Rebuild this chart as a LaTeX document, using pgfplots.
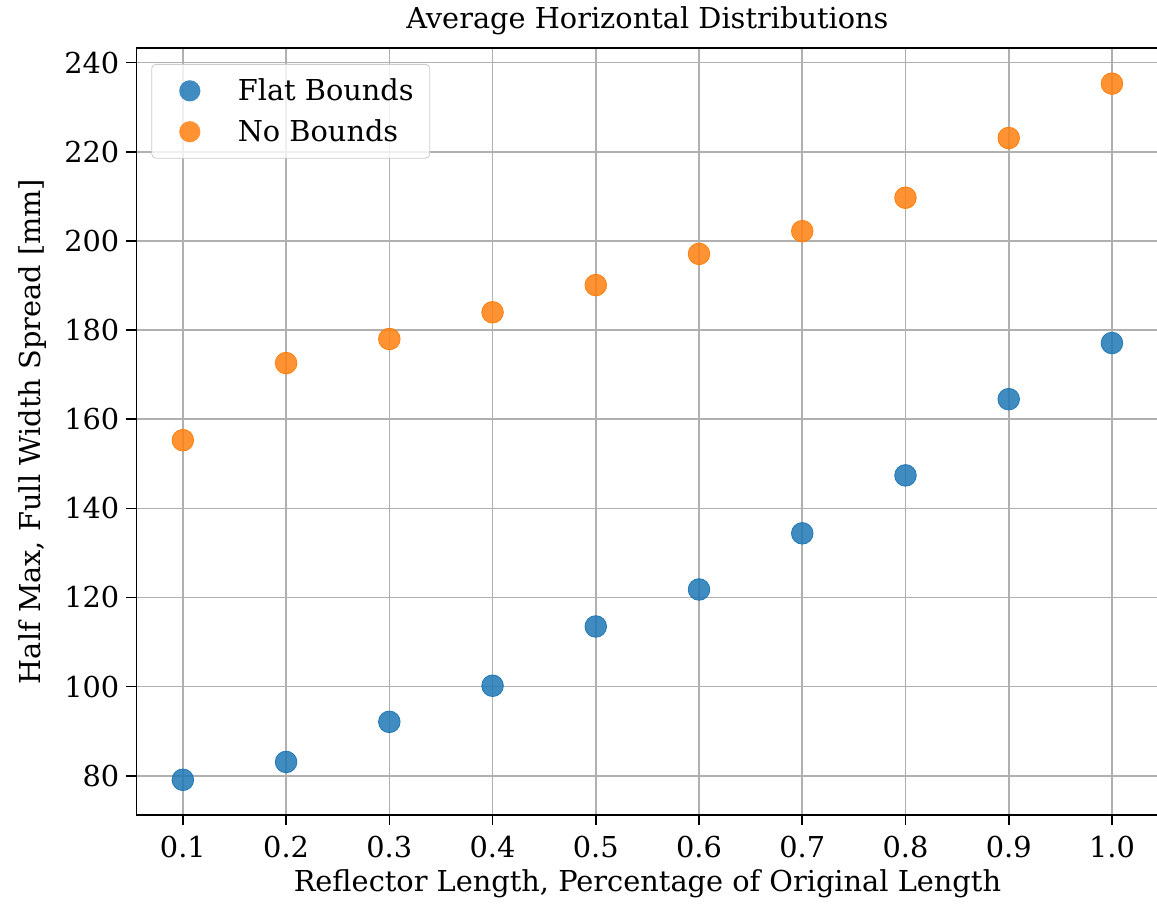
\documentclass[border=0pt]{standalone}
\usepackage{pgfplots}
\pgfplotsset{compat=1.18}
\usepackage{fontspec}
\setmainfont{DejaVu Serif}
\definecolor{tabblue}{HTML}{1F77B4}
\definecolor{taborange}{HTML}{FF7F0E}
\definecolor{gridgray}{HTML}{B0B0B0}
\begin{document}
\begin{tikzpicture}
\begin{axis}[
  at={(0,0)}, anchor=south west,
  scale only axis,
  width=511pt, height=383.5pt,
  xmin=0.055, xmax=1.045,
  ymin=71.2, ymax=243.3,
  xtick={0.1,0.2,...,1.0},
  xticklabels={0.1,0.2,0.3,0.4,0.5,0.6,0.7,0.8,0.9,1.0},
  ytick={80,100,...,240},
  /pgf/number format/assume math mode=true,
  tick label style={font=\fontsize{14.4}{16}\selectfont},
  label style={font=\fontsize{14.4}{16}\selectfont},
  title style={font=\fontsize{14.4}{16}\selectfont, yshift=-3pt},
  title={Average Horizontal Distributions},
  xlabel={Reflector Length, Percentage of Original Length},
  ylabel={Half Max, Full Width Spread [mm]},
  xlabel style={yshift=1pt},
  ylabel style={yshift=2pt},
  xticklabel style={yshift=-2pt},
  grid=major,
  major grid style={gridgray, line width=0.8pt},
  axis line style={black, line width=0.8pt},
  tick align=outside,
  major tick length=5pt,
  tick style={black, line width=0.8pt},
  xtick pos=bottom, ytick pos=left,
  legend cell align=left,
  legend style={at={(0,1)}, anchor=north west, xshift=7.5pt, yshift=-8pt,
    draw=gray!40, rounded corners=2pt, fill=white, fill opacity=0.8, text opacity=1,
    font=\fontsize{14.4}{16}\selectfont,
    row sep=4pt, inner xsep=6pt, inner ysep=5pt},
  legend image code/.code={\path[draw=none, fill=none] (0pt,0pt) -- (35pt,0pt); \fill[#1, draw=none, fill opacity=0.85] (13pt,0pt) circle (5.3pt);},
]
\addplot[only marks, mark=*, mark size=5.4pt, color=tabblue, mark options={draw=none, fill=tabblue, fill opacity=0.85}] coordinates {
(0.1,79.1) (0.2,83.1) (0.3,92.1) (0.4,100.2) (0.5,113.5)
(0.6,121.8) (0.7,134.4) (0.8,147.4) (0.9,164.5) (1.0,177.1)
};
\addlegendentry{Flat Bounds}
\addplot[only marks, mark=*, mark size=5.4pt, color=taborange, mark options={draw=none, fill=taborange, fill opacity=0.85}] coordinates {
(0.1,155.3) (0.2,172.6) (0.3,178.0) (0.4,184.0) (0.5,190.1)
(0.6,197.1) (0.7,202.2) (0.8,209.7) (0.9,223.1) (1.0,235.3)
};
\addlegendentry{No Bounds}
\end{axis}
\pgfresetboundingbox
\useasboundingbox (-68.2pt,-44.5pt) rectangle (510.3pt,407.5pt);
\end{tikzpicture}
\end{document}
